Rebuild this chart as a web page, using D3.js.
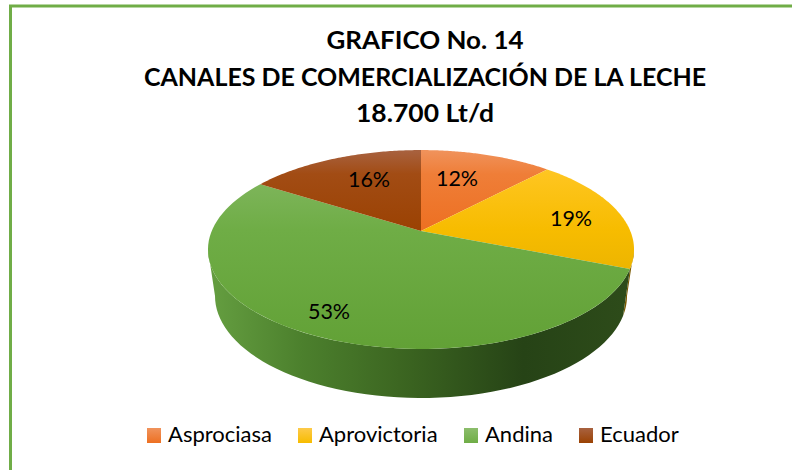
<!DOCTYPE html>
<html>
<head>
<meta charset="utf-8">
<script src="https://cdn.jsdelivr.net/npm/d3@7"></script>
<style>
  body { margin: 0; background: #fff; }
  text { font-family: Lato, "Open Sans", sans-serif; fill: #000; }
</style>
</head>
<body>
<div id="chart"></div>
<script>
const categories = ["Asprociasa", "Aprovictoria", "Andina", "Ecuador"];
const shares = [12, 19, 53, 16];
const titleLines = ["GRAFICO No. 14", "CANALES DE COMERCIALIZACIÓN DE LA LECHE", "18.700 Lt/d"];
const faceStops = [
  ["#f0935c", "#ef7e38", "#ed7022", "#ed7022"],
  ["#fdca4a", "#fec51f", "#f7bc00", "#d9a600"],
  ["#8cbd6c", "#80b65e", "#6fad46", "#62a136"],
  ["#a86240", "#a24c14", "#9b4203", "#984000"]
];
const wallStops = ["#639c3f", "#4c802d", "#3c6621", "#264316", "#2e4c1a"];

const width = 792, height = 470;
const svg = d3.select("#chart").append("svg")
  .attr("width", width)
  .attr("height", height)
  .style("display", "block");

// the pie is tilted with some perspective, so the apex sits above the middle of the ellipse
const tilt = 0.186;
const top3d = { cx: 421, cy: 231, rx: 209.3, ry: 96 };
const low3d = { cx: 421, cy: 277, rx: 202.4, ry: 98.5 };

function project(disc, a) {
  const u = Math.sin(a), v = -Math.cos(a), w = 1 - tilt * v;
  return [disc.cx + u * disc.rx / w, disc.cy + v * disc.ry / w];
}

const slices = d3.pie().value(d => d).sort(null)(shares);
const line = d3.line();
const defs = svg.append("defs");

const faceY = d3.scaleLinear().domain([0, 1]).range([150, 349]);
faceStops.forEach((stops, i) => {
  const g = defs.append("linearGradient").attr("id", "face" + i)
    .attr("gradientUnits", "userSpaceOnUse")
    .attr("x1", 0).attr("x2", 0).attr("y1", faceY(0)).attr("y2", faceY(1));
  [0, 0.12, 0.4, 1].forEach((o, j) => {
    g.append("stop").attr("offset", o).attr("stop-color", stops[j]);
  });
  // same stops for the little legend swatches
  const l = defs.append("linearGradient").attr("id", "key" + i)
    .attr("x1", 0).attr("x2", 0).attr("y1", 0).attr("y2", 1);
  l.append("stop").attr("offset", 0).attr("stop-color", stops[0]);
  l.append("stop").attr("offset", 1).attr("stop-color", stops[2]);
});

const wallGrad = defs.append("linearGradient").attr("id", "wall")
  .attr("gradientUnits", "userSpaceOnUse")
  .attr("x1", 208).attr("x2", 634).attr("y1", 0).attr("y2", 0);
wallStops.forEach((c, j) => {
  wallGrad.append("stop").attr("offset", [0.02, 0.22, 0.45, 0.74, 1][j]).attr("stop-color", c);
});

// outer wall, only the part turned towards the viewer
const rimStart = Math.PI / 2 + Math.asin(tilt);
const rimEnd = 2 * Math.PI - rimStart;
function wall(a0, a1, fill) {
  const angles = d3.range(0, 61).map(i => a0 + (a1 - a0) * i / 60);
  const pts = angles.map(a => project(top3d, a))
    .concat(angles.slice().reverse().map(a => project(low3d, a)));
  svg.append("path").attr("d", line(pts) + "Z").attr("fill", fill);
}
wall(rimStart, slices[1].endAngle, "#7a5a00");
wall(slices[1].endAngle, rimEnd, "url(#wall)");

// top faces
slices.forEach((s, i) => {
  const angles = d3.range(0, 81).map(k => s.startAngle + (s.endAngle - s.startAngle) * k / 80);
  const pts = [[top3d.cx, top3d.cy]].concat(angles.map(a => project(top3d, a)));
  svg.append("path").attr("d", line(pts) + "Z").attr("fill", "url(#face" + i + ")");
});

// value labels, placed by hand like in the original
const labelPos = [[457, 178], [571, 218], [329, 311], [369, 179]];
shares.forEach((v, i) => {
  svg.append("text").attr("x", labelPos[i][0]).attr("y", labelPos[i][1])
    .attr("text-anchor", "middle").attr("dy", "0.35em")
    .attr("font-size", 21.5).text(v + "%");
});

// title, Lato runs a bit narrow here so each line is fitted
const titleWidth = [197, 562, 138];
svg.selectAll(".title").data(titleLines).join("text")
  .attr("class", "title")
  .attr("x", 425)
  .attr("y", (d, i) => 49 + i * 36.5)
  .attr("text-anchor", "middle")
  .attr("font-size", 25)
  .attr("font-weight", 700)
  .attr("textLength", (d, i) => titleWidth[i])
  .attr("lengthAdjust", "spacingAndGlyphs")
  .text(d => d);

// legend
const keyX = [147, 298, 464, 579];
categories.forEach((c, i) => {
  svg.append("rect").attr("x", keyX[i]).attr("y", 428)
    .attr("width", 14).attr("height", 15).attr("fill", "url(#key" + i + ")");
  svg.append("text").attr("x", keyX[i] + 21).attr("y", 442)
    .attr("font-size", 22).text(c);
});

// frame, right and bottom sides fall outside the picture
svg.append("rect").attr("x", 10.5).attr("y", 6)
  .attr("width", 800).attr("height", 480)
  .attr("fill", "none").attr("stroke", "#70ad47").attr("stroke-width", 3);
</script>
</body>
</html>
